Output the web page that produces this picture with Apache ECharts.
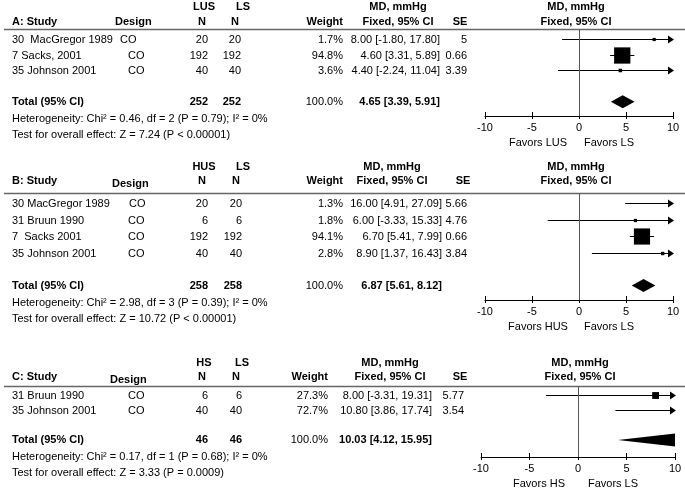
<!DOCTYPE html>
<html>
<head>
<meta charset="utf-8">
<script src="https://cdn.jsdelivr.net/npm/echarts@6/dist/echarts.min.js"></script>
<style>
  html, body { margin: 0; padding: 0; background: #fff; }
  #chart { width: 685px; height: 488px; }
</style>
</head>
<body>
<div id="chart"></div>
<script>
// ---- data: A (LUS vs LS)
const studiesA = ['30  MacGregor 1989', '7 Sacks, 2001', '35 Johnson 2001']
const designA = ['CO', 'CO', 'CO']
const n1A = [20, 192, 40]
const n2A = [20, 192, 40]
const weightA = [1.7, 94.8, 3.6]
const mdA = [8.00, 4.60, 4.40]
const loA = [-1.80, 3.31, -2.24]
const hiA = [17.80, 5.89, 11.04]
const seA = [5, 0.66, 3.39]
const totalA = [4.65, 3.39, 5.91]
const totalNA = [252, 252]
const hetA = 'Heterogeneity: Chi² = 0.46, df = 2 (P = 0.79); I² = 0%'
const testA = 'Test for overall effect: Z = 7.24 (P < 0.00001)'

// ---- data: B (HUS vs LS)
const studiesB = ['30 MacGregor 1989', '31 Bruun 1990', '7  Sacks 2001', '35 Johnson 2001']
const designB = ['CO', 'CO', 'CO', 'CO']
const n1B = [20, 6, 192, 40]
const n2B = [20, 6, 192, 40]
const weightB = [1.3, 1.8, 94.1, 2.8]
const mdB = [16.00, 6.00, 6.70, 8.90]
const loB = [4.91, -3.33, 5.41, 1.37]
const hiB = [27.09, 15.33, 7.99, 16.43]
const seB = [5.66, 4.76, 0.66, 3.84]
const totalB = [6.87, 5.61, 8.12]
const totalNB = [258, 258]
const hetB = 'Heterogeneity: Chi² = 2.98, df = 3 (P = 0.39); I² = 0%'
const testB = 'Test for overall effect: Z = 10.72 (P < 0.00001)'

// ---- data: C (HS vs LS)
const studiesC = ['31 Bruun 1990', '35 Johnson 2001']
const designC = ['CO', 'CO']
const n1C = [6, 40]
const n2C = [6, 40]
const weightC = [27.3, 72.7]
const mdC = [8.00, 10.80]
const loC = [-3.31, 3.86]
const hiC = [19.31, 17.74]
const seC = [5.77, 3.54]
const totalC = [10.03, 4.12, 15.95]
const totalNC = [46, 46]
const hetC = 'Heterogeneity: Chi² = 0.17, df = 1 (P = 0.68); I² = 0%'
const testC = 'Test for overall effect: Z = 3.33 (P = 0.0009)'

const xTicks = [-10, -5, 0, 5, 10]

const panels = [
  {title: 'A: Study', g1: 'LUS', g2: 'LS', favL: 'Favors LUS', favR: 'Favors LS',
   studies: studiesA, design: designA, n1: n1A, n2: n2A, weight: weightA, md: mdA, lo: loA, hi: hiA, se: seA,
   total: totalA, totalN: totalNA, het: hetA, test: testA,
   lay: {h1: 6.5, h2: 22, dDy: 0, rule: 29.5, row0: 39, step: 15.7, axisY: 116, x0: 485, x1: 673,
         designX: [120, 128, 128], designH: 115, nx1: 208, nx2: 241, g1x: 204, g2x: 243, wx: 343, cix: 440, sex: 467,
         sec: 460, mdc: 398, plotc: 576, favL: 538, favR: 609}},
  {title: 'B: Study', g1: 'HUS', g2: 'LS', favL: 'Favors HUS', favR: 'Favors LS',
   studies: studiesB, design: designB, n1: n1B, n2: n2B, weight: weightB, md: mdB, lo: loB, hi: hiB, se: seB,
   total: totalB, totalN: totalNB, het: hetB, test: testB,
   lay: {h1: 167, h2: 181, dDy: 3, rule: 193.5, row0: 203, step: 16.5, axisY: 300, x0: 485, x1: 673,
         designX: [129, 128, 128, 128], designH: 112, nx1: 208, nx2: 242, g1x: 204, g2x: 243, wx: 343, cix: 442, sex: 467,
         sec: 463, mdc: 392, plotc: 576, favL: 538, favR: 609}},
  {title: 'C: Study', g1: 'HS', g2: 'LS', favL: 'Favors HS', favR: 'Favors LS',
   studies: studiesC, design: designC, n1: n1C, n2: n2C, weight: weightC, md: mdC, lo: loC, hi: hiC, se: seC,
   total: totalC, totalN: totalNC, het: hetC, test: testC,
   lay: {h1: 363, h2: 377, dDy: 3, rule: 386.5, row0: 395, step: 15, axisY: 457, x0: 481, x1: 675,
         designX: [128, 128], designH: 110, nx1: 208, nx2: 242, g1x: 204, g2x: 242, wx: 328, cix: 432, sex: 464,
         sec: 460, mdc: 390, plotc: 580, favL: 539, favR: 613}}
]

const FONT = '"Liberation Sans", Arial, sans-serif'
const fmt = v => v.toFixed(2)

function txt(x, y, s, align, bold) {
  return {
    type: 'text', x: x, y: y, silent: true,
    style: {
      text: s, fill: '#000', font: (bold ? 'bold ' : '') + '11px ' + FONT,
      textAlign: align || 'left', textVerticalAlign: 'middle', align: align || 'left', verticalAlign: 'middle'
    }
  }
}

const graphic = []
const grids = [], xAxes = [], yAxes = [], series = []

panels.forEach((p, k) => {
  const L = p.lay
  const rowY = i => L.row0 + i * L.step
  const totalRow = p.studies.length + 1

  // table header
  graphic.push(txt(L.g1x, L.h1, p.g1, 'center', true))
  graphic.push(txt(L.g2x, L.h1, p.g2, 'center', true))
  graphic.push(txt(L.mdc, L.h1, 'MD, mmHg', 'center', true))
  graphic.push(txt(L.plotc, L.h1, 'MD, mmHg', 'center', true))
  graphic.push(txt(12, L.h2, p.title, 'left', true))
  graphic.push(txt(L.designH, L.h2 + L.dDy, 'Design', 'left', true))
  graphic.push(txt(L.nx1 - 6, L.h2, 'N', 'center', true))
  graphic.push(txt(L.nx2 - 6, L.h2, 'N', 'center', true))
  graphic.push(txt(L.wx, L.h2, 'Weight', 'right', true))
  graphic.push(txt(L.mdc, L.h2, 'Fixed, 95% CI', 'center', true))
  graphic.push(txt(L.sec, L.h2, 'SE', 'center', true))
  graphic.push(txt(L.plotc, L.h2, 'Fixed, 95% CI', 'center', true))
  graphic.push({type: 'line', silent: true,
    shape: {x1: 4, y1: L.rule, x2: 685, y2: L.rule}, style: {stroke: '#666', lineWidth: 1.3}})

  // study rows
  p.studies.forEach((s, i) => {
    const y = rowY(i) + 1
    graphic.push(txt(12, y, s))
    graphic.push(txt(L.designX[i], y, p.design[i]))
    graphic.push(txt(L.nx1, y, String(p.n1[i]), 'right'))
    graphic.push(txt(L.nx2, y, String(p.n2[i]), 'right'))
    graphic.push(txt(L.wx, y, p.weight[i].toFixed(1) + '%', 'right'))
    graphic.push(txt(L.cix, y, fmt(p.md[i]) + ' [' + fmt(p.lo[i]) + ', ' + fmt(p.hi[i]) + ']', 'right'))
    graphic.push(txt(L.sex, y, String(p.se[i]), 'right'))
  })
  const ty = rowY(totalRow)
  graphic.push(txt(12, ty, 'Total (95% CI)', 'left', true))
  graphic.push(txt(L.nx1, ty, String(p.totalN[0]), 'right', true))
  graphic.push(txt(L.nx2, ty, String(p.totalN[1]), 'right', true))
  graphic.push(txt(L.wx, ty, '100.0%', 'right'))
  graphic.push(txt(L.cix, ty, fmt(p.total[0]) + ' [' + fmt(p.total[1]) + ', ' + fmt(p.total[2]) + ']', 'right', true))
  graphic.push(txt(12, ty + 17, p.het))
  graphic.push(txt(12, ty + 33, p.test))
  graphic.push(txt(L.favL, L.axisY + 27, p.favL, 'center'))
  graphic.push(txt(L.favR, L.axisY + 27, p.favR, 'center'))

  // plot area
  grids.push({left: L.x0, width: L.x1 - L.x0, top: L.rule, height: L.axisY - L.rule, containLabel: false})
  const axBase = {type: 'value', gridIndex: k, min: xTicks[0], max: xTicks[xTicks.length - 1], interval: 5,
    position: 'bottom', splitLine: {show: false}}
  xAxes.push(Object.assign({}, axBase, {
    axisLine: {show: true, onZero: false, lineStyle: {color: '#000', width: 1}},
    axisTick: {show: true, inside: false, length: 3, lineStyle: {color: '#000'}},
    axisLabel: {show: true, margin: 6, color: '#000', fontSize: 11, fontFamily: FONT}
  }))
  xAxes.push(Object.assign({}, axBase, {
    axisLine: {show: false, onZero: false},
    axisTick: {show: true, inside: true, length: 4, lineStyle: {color: '#000'}},
    axisLabel: {show: false}
  }))
  yAxes.push({type: 'value', gridIndex: k, inverse: true, show: false,
    min: (L.rule - L.row0) / L.step, max: (L.axisY - L.row0) / L.step})

  series.push({
    type: 'custom', xAxisIndex: 2 * k, yAxisIndex: k, silent: true, clip: false,
    data: p.studies.map((s, i) => [p.md[i], p.lo[i], p.hi[i], i, p.weight[i]]),
    encode: {x: [0, 1, 2], y: 3},
    renderItem: (params, api) => {
      const md = api.value(0), lo = api.value(1), hi = api.value(2), row = api.value(3), w = api.value(4)
      const y = Math.round(api.coord([0, row])[1]) + 0.5
      const xl = api.coord([Math.max(lo, xTicks[0]), row])[0]
      const xr = api.coord([Math.min(hi, xTicks[4]), row])[0]
      const ch = [{type: 'line', shape: {x1: xl, y1: y, x2: xr, y2: y}, style: {stroke: '#000', lineWidth: 1}}]
      if (hi > xTicks[4]) {
        ch.push({type: 'polygon', shape: {points: [[xr + 1, y], [xr - 5, y - 4], [xr - 5, y + 4]]}, style: {fill: '#000'}})
      }
      if (md >= xTicks[0] && md <= xTicks[4]) {
        const sz = 3 + 0.14 * w
        const cx = api.coord([md, row])[0]
        ch.push({type: 'rect', shape: {x: cx - sz / 2, y: y - sz / 2, width: sz, height: sz}, style: {fill: '#000'}})
      }
      return {type: 'group', children: ch}
    },
    markLine: {silent: true, symbol: 'none', label: {show: false},
      lineStyle: {color: '#555', width: 1, type: 'solid'}, data: [{xAxis: 0}]}
  })
  series.push({
    type: 'custom', xAxisIndex: 2 * k, yAxisIndex: k, silent: true, clip: true,
    data: [[p.total[0], p.total[1], p.total[2], totalRow]],
    encode: {x: [0, 1, 2], y: 3},
    renderItem: (params, api) => {
      const row = api.value(3)
      const c = api.coord([api.value(0), row])
      const l = api.coord([api.value(1), row])
      const r = api.coord([api.value(2), row])
      const h = 6.5
      return {type: 'polygon', shape: {points: [[l[0], c[1]], [c[0], c[1] - h], [r[0], c[1]], [c[0], c[1] + h]]},
        style: {fill: '#000'}}
    }
  })
})

const chart = echarts.init(document.getElementById('chart'))
chart.setOption({
  animation: false,
  backgroundColor: '#fff',
  grid: grids,
  xAxis: xAxes,
  yAxis: yAxes,
  series: series,
  graphic: graphic
})
</script>
</body>
</html>
